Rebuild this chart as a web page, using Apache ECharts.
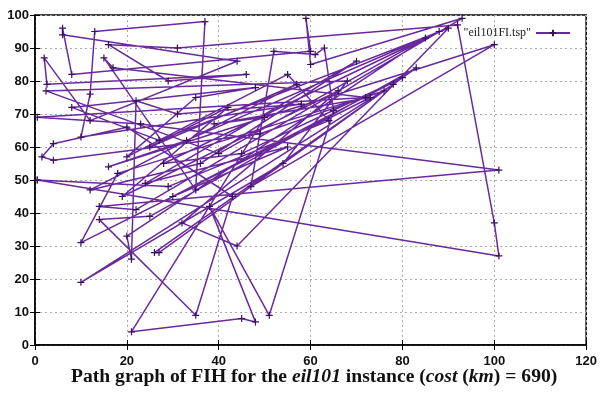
<!DOCTYPE html>
<html>
<head>
<meta charset="utf-8">
<script src="https://cdn.jsdelivr.net/npm/echarts@6/dist/echarts.min.js"></script>
<style>html,body{margin:0;padding:0;background:#fff}#c{width:600px;height:393px}</style>
</head>
<body>
<div id="c"></div>
<script>
// Tour order (x, y)
var pathX = [0.5,101,100,92,31,16,29,46,2.6,2,12,44,6,6,8,60,59,60,93,22,14,101,23,0.5,72,17,15,35,37,13,12,10,58,31,22,21,20,85,40,2.4,68,54,10,78,26,27,83,25,14,35,43,20,4,1.5,4,49,76,18,10,73,39,50,21,45,48,38,51,65,63,61,52,47,100,16,33,88,28,45,80,30,55,24,70,36,12,57,25,42,19,66,32,44,90,27,8,48,35,20,55,64,29,0.5];
var pathY = [50,27,37,97,90,91,80,82,79,87,68,86,94,96,82,89,99,85,99,41,42,53,67,69,75,84,87,47,98,95,76,63,73,70,74,26,33,93,58,77,80,55,19,79,28,28,84,39,38,9,45,66,61,57,56,64,77,52,31,75,67,69,4,8,7,42,9,71,90,88,89,48,91,54,62,95,55,58,81,45,60,49,86,55,47,79,60,72,45,77,37,30,96,62,72,78,75,57,82,68,48,50];
var seriesName = '"eil101FI.tsp"';
var xTicks = [0,20,40,60,80,100,120];
var yTicks = [0,10,20,30,40,50,60,70,80,90,100];

var pts = pathX.map(function(x,i){return [x, pathY[i]];});
var purple = '#6a2a9e';
var plus = 'path://M0,5L10,5M5,0L5,10';
var chart = echarts.init(document.getElementById('c'));
var grid = {left:35, right:12, top:15, bottom:48, show:true, borderColor:'#000', borderWidth:1.5, backgroundColor:'#fff'};
var lbl = {color:'#111', fontFamily:'Liberation Sans', fontWeight:'bold', fontSize:13};
chart.setOption({
  animation:false,
  backgroundColor:'#fff',
  grid:grid,
  title:{
    text:'{a|Path graph of FIH for the }{i|eil101}{a| instance (}{i|cost}{a| (}{i|km}{a|) = 690)}',
    left:66, bottom:1,
    textStyle:{rich:{
      a:{fontFamily:'Liberation Serif', fontWeight:'bold', fontSize:19.6, color:'#111'},
      i:{fontFamily:'Liberation Serif', fontWeight:'bold', fontStyle:'italic', fontSize:19.6, color:'#111'}
    }}
  },
  legend:{
    right:24, top:22, align:'right', itemWidth:34, itemHeight:8, itemGap:4,
    textStyle:{fontFamily:'Liberation Sans Narrow', fontSize:12, color:'#222'},
    data:[seriesName]
  },
  xAxis:[{
    type:'value', min:xTicks[0], max:xTicks[xTicks.length-1], interval:20,
    axisLine:{lineStyle:{color:'#000', width:1.5}},
    axisTick:{inside:true, length:5, lineStyle:{color:'#000'}},
    axisLabel:Object.assign({margin:10}, lbl),
    splitLine:{show:true, lineStyle:{color:'#aaa', type:[2,3], width:1}}
  },{
    type:'value', position:'top', min:0, max:120, interval:20,
    axisLine:{show:false}, axisTick:{inside:true, length:5, lineStyle:{color:'#000'}},
    axisLabel:{show:false}, splitLine:{show:false}
  }],
  yAxis:[{
    type:'value', min:yTicks[0], max:yTicks[yTicks.length-1], interval:10,
    axisLine:{show:true, lineStyle:{color:'#000', width:1.5}},
    axisTick:{show:true, inside:true, length:5, lineStyle:{color:'#000'}},
    axisLabel:Object.assign({margin:6}, lbl),
    splitLine:{show:true, lineStyle:{color:'#aaa', type:[2,3], width:1}}
  },{
    type:'value', position:'right', min:0, max:100, interval:10,
    axisLine:{show:false}, axisTick:{show:true, inside:true, length:5, lineStyle:{color:'#000'}},
    axisLabel:{show:false}, splitLine:{show:false}
  }],
  series:[{
    name:seriesName, type:'line', data:pts,
    symbol:plus, symbolSize:7, showSymbol:true,
    lineStyle:{color:purple, width:1.5},
    itemStyle:{color:purple, borderColor:'#3a1060', borderWidth:1.2},
    emphasis:{disabled:true}
  }]
});
</script>
</body>
</html>
